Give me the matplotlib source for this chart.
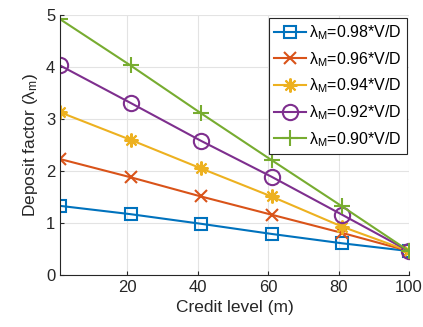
import matplotlib
matplotlib.use("Agg")
import matplotlib.pyplot as plt

plt.rcParams['font.family'] = ['Liberation Sans', 'DejaVu Sans']
plt.rcParams['mathtext.fontset'] = 'custom'
plt.rcParams['mathtext.rm'] = 'Liberation Sans'
plt.rcParams['mathtext.it'] = 'Liberation Sans'

# data
credit = [1, 21, 41, 61, 81, 100]
lam098 = [1.33, 1.17, 0.985, 0.79, 0.61, 0.46]
lam096 = [2.23, 1.88, 1.51, 1.16, 0.81, 0.46]
lam094 = [3.13, 2.60, 2.05, 1.51, 0.93, 0.46]
lam092 = [4.03, 3.31, 2.58, 1.89, 1.16, 0.46]
lam090 = [4.92, 4.03, 3.11, 2.21, 1.32, 0.46]
labels = [r'$\lambda_\mathrm{M}$=0.98*V/D', r'$\lambda_\mathrm{M}$=0.96*V/D',
          r'$\lambda_\mathrm{M}$=0.94*V/D', r'$\lambda_\mathrm{M}$=0.92*V/D',
          r'$\lambda_\mathrm{M}$=0.90*V/D']

colors = ['#0072BD', '#D95319', '#EDB120', '#7E2F8E', '#77AC30']
markers = ['s', 'x', (8, 2, 0), 'o', '+']
msizes = [8, 8, 10, 11, 11]

fig = plt.figure(figsize=(4.23, 3.27), dpi=100)
ax = fig.add_axes([0.142, 0.159, 0.825, 0.795])

for y, lab, c, m, ms in zip([lam098, lam096, lam094, lam092, lam090],
                            labels, colors, markers, msizes):
    ax.plot(credit, y, color=c, marker=m, markersize=ms, linewidth=1.5,
            markerfacecolor='none', markeredgewidth=1.5, label=lab)

ax.set_xlim(1, 100)
ax.set_ylim(0, 5)
ax.set_xticks([20, 40, 60, 80, 100])
ax.set_yticks([0, 1, 2, 3, 4, 5])
ax.grid(True, color='#e3e3e3', linewidth=0.8)
ax.set_axisbelow(True)
for s in ['top', 'right']:
    ax.spines[s].set_visible(False)
for s in ['left', 'bottom']:
    ax.spines[s].set_color('#262626')
    ax.spines[s].set_linewidth(0.8)
ax.tick_params(direction='in', length=3, labelsize=12, colors='#262626')
ax.set_xlabel('Credit level (m)', fontsize=12.5, color='#262626')
ax.set_ylabel(r'Deposit factor ($\lambda_\mathrm{m}$)', fontsize=12.5, color='#262626')

leg = ax.legend(loc='upper right', bbox_to_anchor=(0.995, 0.99), fontsize=11.5,
                fancybox=False, edgecolor='#262626', framealpha=1,
                handlelength=2.0, handletextpad=0.2, borderpad=0.35,
                labelspacing=0.5, borderaxespad=0)
leg.get_frame().set_linewidth(0.8)

plt.savefig('out.png', dpi=100)
